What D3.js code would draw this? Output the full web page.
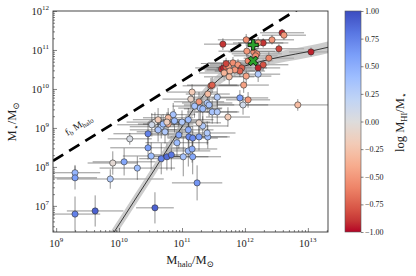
<!DOCTYPE html>
<html>
<head>
<meta charset="utf-8">
<script src="https://d3js.org/d3.v7.min.js"></script>
<style>
  body { margin: 0; background: #fff; }
  text { font-family: "Liberation Serif", "DejaVu Serif", serif; fill: #222; }
</style>
</head>
<body>
<svg id="chart"></svg>
<script>
  var width = 416, height = 276;

  // galaxies: log halo mass, log stellar mass, log gas fraction, errors (dex)
  var logMhalo = [9.30, 9.30, 9.30, 9.62, 9.86, 9.90, 10.08, 10.17, 10.29, 10.46,
    10.46, 10.51, 10.67, 10.76, 10.83, 11.02, 11.10, 11.16, 11.17, 11.24,
    10.57, 10.95, 11.10, 11.11, 11.17, 11.27, 11.41, 11.33, 11.40, 11.27,
    10.78, 10.92, 10.73, 10.67, 10.62, 10.70, 10.57, 10.62, 10.86, 10.88,
    10.52, 10.78, 10.76, 11.00, 11.10, 11.48, 11.56, 11.16, 11.14, 11.27,
    11.40, 11.29, 11.43, 11.41, 11.56, 11.46, 11.63, 11.33, 11.20, 11.73,
    11.92, 11.97, 12.05, 11.98, 12.84, 11.48, 11.65, 12.59, 12.62, 12.02,
    12.29, 12.43, 12.21, 12.03, 12.14, 12.19, 12.54, 13.05, 12.38, 12.29,
    12.21, 12.21, 11.66, 11.70, 11.74, 11.81, 11.89, 11.95, 11.92, 11.84,
    11.76, 11.67, 11.75, 12.02, 12.05, 12.17, 11.70];
  var logMstar = [7.85, 7.72, 6.79, 6.87, 7.69, 8.10, 8.13, 8.72, 7.97, 8.85,
    8.49, 8.28, 8.21, 8.26, 8.31, 8.26, 8.41, 8.46, 8.26, 7.59,
    6.95, 8.82, 8.95, 8.77, 8.74, 8.77, 8.77, 9.05, 8.87, 9.13,
    9.10, 8.62, 8.90, 9.03, 8.95, 9.10, 9.15, 9.21, 9.34, 9.18,
    9.08, 9.26, 9.15, 9.15, 9.21, 9.41, 9.41, 9.92, 9.74, 9.67,
    9.64, 9.51, 9.59, 9.87, 9.79, 10.08, 10.51, 9.49, 9.56, 9.28,
    9.77, 9.59, 9.72, 10.10, 9.59, 10.10, 11.15, 11.44, 11.38, 11.26,
    11.18, 11.26, 11.18, 10.97, 10.95, 10.90, 11.03, 10.95, 10.79, 10.62,
    10.54, 10.38, 10.54, 10.56, 10.59, 10.67, 10.62, 10.54, 10.46, 10.49,
    10.46, 10.41, 10.31, 10.33, 10.72, 10.85, 10.65];
  var logGasFrac = [0.45, 0.60, 0.75, 0.90, 0.30, -0.05, 0.55, 0.05, 0.40, 0.75,
    0.60, 0.40, 0.75, 0.85, 0.80, 0.35, 0.40, 0.50, 0.55, 0.65,
    0.90, 0.55, 0.50, 0.70, 0.70, 0.60, 0.40, 0.30, 0.30, -0.10,
    -0.35, 0.40, 0.30, 0.25, 0.35, 0.40, 0.00, -0.20, 0.35, 0.40,
    0.10, -0.30, -0.15, 0.30, 0.40, 0.35, 0.30, -0.20, -0.10, -0.50,
    0.30, 0.35, 0.35, -0.30, 0.30, -0.70, -0.90, 0.40, 0.35, -0.20,
    0.60, 0.10, -0.50, -0.45, -0.30, -0.75, -0.90, -0.95, -0.50, -0.55,
    -0.90, -0.50, -0.50, -0.50, -0.55, -0.55, -0.85, -0.95, -0.60, -0.80,
    -0.95, 0.30, -0.95, -0.75, -0.50, -0.55, -0.50, -0.75, -0.75, -0.50,
    -0.35, -0.35, -0.30, -0.45, -0.60, -0.55, -0.85];
  var xErr = [0.40, 0.35, 0.40, 0.45, 0.85, 0.40, 0.50, 0.35, 0.60, 0.55,
    0.60, 0.45, 0.35, 0.30, 0.30, 0.40, 0.35, 0.40, 0.45, 0.40,
    0.30, 0.45, 0.40, 0.35, 0.40, 0.45, 0.35, 0.40, 0.45, 0.35,
    0.40, 0.50, 0.45, 0.50, 0.45, 0.40, 0.45, 0.40, 0.35, 0.40,
    0.55, 0.40, 0.30, 0.45, 0.40, 0.40, 0.35, 0.40, 0.45, 0.40,
    0.40, 0.35, 0.40, 0.35, 0.40, 0.45, 0.35, 0.30, 0.35, 0.35,
    0.45, 0.40, 0.35, 0.40, 0.85, 0.40, 0.30, 0.35, 0.35, 0.45,
    0.40, 0.35, 0.40, 0.45, 0.40, 0.40, 0.40, 0.35, 0.40, 0.40,
    0.35, 0.35, 0.45, 0.40, 0.40, 0.40, 0.45, 0.40, 0.40, 0.45,
    0.40, 0.40, 0.40, 0.40, 0.40, 0.35, 0.40];
  var yErr = [0.20, 0.30, 0.45, 0.40, 0.25, 0.30, 0.35, 0.15, 0.30, 0.30,
    0.30, 0.35, 0.40, 0.35, 0.40, 0.50, 0.40, 0.35, 0.45, 0.45,
    0.40, 0.35, 0.30, 0.35, 0.30, 0.35, 0.30, 0.25, 0.30, 0.25,
    0.30, 0.35, 0.30, 0.30, 0.30, 0.25, 0.25, 0.30, 0.30, 0.30,
    0.30, 0.25, 0.25, 0.30, 0.30, 0.30, 0.30, 0.20, 0.25, 0.25,
    0.25, 0.30, 0.30, 0.20, 0.25, 0.20, 0.15, 0.30, 0.30, 0.25,
    0.20, 0.25, 0.20, 0.20, 0.15, 0.20, 0.15, 0.10, 0.12, 0.15,
    0.12, 0.12, 0.15, 0.15, 0.15, 0.15, 0.12, 0.12, 0.15, 0.15,
    0.15, 0.20, 0.15, 0.15, 0.15, 0.15, 0.15, 0.15, 0.15, 0.15,
    0.15, 0.20, 0.20, 0.20, 0.15, 0.15, 0.15];

  // stellar-halo relation, with its scatter (dex)
  var relLogMhalo = [9.79, 10.25, 10.57, 10.86, 11.05, 11.24, 11.40, 11.56, 11.76, 12.00, 12.29, 12.56, 13.05, 13.35];
  var relLogMstar = [6.00, 7.15, 7.95, 8.69, 9.15, 9.62, 9.95, 10.21, 10.44, 10.59, 10.72, 10.82, 10.97, 11.08];
  var relScatter = 0.15;

  // two highlighted objects
  var markLogMhalo = [12.13, 12.13];
  var markLogMstar = [11.13, 10.72];
  var markShape = ["plus", "x"];

  var baryonFrac = 0.16;

  var xTicks = [9, 10, 11, 12, 13];
  var yTicks = [7, 8, 9, 10, 11, 12];
  var cbTicks = [1.00, 0.75, 0.50, 0.25, 0.00, -0.25, -0.50, -0.75, -1.00];

  var svg = d3.select("#chart").attr("width", width).attr("height", height);

  var x = d3.scaleLog().domain([Math.pow(10, 8.95), Math.pow(10, 13.32)]).range([53, 328]);
  var y = d3.scaleLog().domain([Math.pow(10, 6.33), 1e12]).range([232, 11]);
  var L = v => Math.pow(10, v);

  // matplotlib coolwarm, reversed so that -1 is red
  var cw = ["#3b4cc0", "#5977e3", "#7b9ff9", "#9ebeff", "#c0d4f5", "#dddcdc",
    "#f2cbb7", "#f7ac8e", "#ee8468", "#d65244", "#b40426"];
  var cwScale = d3.scaleLinear().domain(d3.range(cw.length).map(i => i / (cw.length - 1)))
    .range(cw).interpolate(d3.interpolateLab);
  var color = v => cwScale((1 - v) / 2);

  svg.append("defs").append("clipPath").attr("id", "clip")
    .append("rect").attr("x", 53).attr("y", 11).attr("width", 275).attr("height", 221);

  var plot = svg.append("g").attr("clip-path", "url(#clip)");

  var pts = logMhalo.map((d, i) => ({
    mh: d, ms: logMstar[i], c: logGasFrac[i], xe: xErr[i], ye: yErr[i]
  }));

  // error bars
  plot.selectAll(".xerr").data(pts).enter().append("line")
    .attr("x1", d => x(L(d.mh - d.xe))).attr("x2", d => x(L(d.mh + d.xe)))
    .attr("y1", d => y(L(d.ms))).attr("y2", d => y(L(d.ms)))
    .attr("stroke", "#333").attr("stroke-width", 0.7).attr("opacity", 0.75);
  plot.selectAll(".yerr").data(pts).enter().append("line")
    .attr("x1", d => x(L(d.mh))).attr("x2", d => x(L(d.mh)))
    .attr("y1", d => y(L(d.ms - d.ye))).attr("y2", d => y(L(d.ms + d.ye)))
    .attr("stroke", "#333").attr("stroke-width", 0.7).attr("opacity", 0.75);

  // relation band and line
  var rel = relLogMhalo.map((d, i) => ({ mh: d, ms: relLogMstar[i] }));
  plot.append("path").datum(rel)
    .attr("d", d3.area().curve(d3.curveMonotoneX)
      .x(d => x(L(d.mh)))
      .y0(d => y(L(d.ms - relScatter)))
      .y1(d => y(L(d.ms + relScatter))))
    .attr("fill", "#b0b0b0").attr("opacity", 0.65);
  plot.append("path").datum(rel)
    .attr("d", d3.line().curve(d3.curveMonotoneX).x(d => x(L(d.mh))).y(d => y(L(d.ms))))
    .attr("fill", "none").attr("stroke", "#111").attr("stroke-width", 0.8);

  // baryon fraction line
  var xd = x.domain();
  plot.append("line")
    .attr("x1", x(xd[0])).attr("y1", y(xd[0] * baryonFrac))
    .attr("x2", x(xd[1])).attr("y2", y(xd[1] * baryonFrac))
    .attr("stroke", "#000").attr("stroke-width", 2.8)
    .attr("stroke-dasharray", "12,7");

  // galaxies
  plot.selectAll(".gal").data(pts).enter().append("circle")
    .attr("cx", d => x(L(d.mh))).attr("cy", d => y(L(d.ms)))
    .attr("r", 3.1)
    .attr("fill", d => color(d.c))
    .attr("stroke", "#333").attr("stroke-width", 0.6);

  // highlighted objects
  var cross = d3.symbol().type(d3.symbolCross).size(60);
  markLogMhalo.forEach(function(d, i) {
    plot.append("path")
      .attr("d", cross())
      .attr("transform", "translate(" + x(L(d)) + "," + y(L(markLogMstar[i])) + ")" +
        (markShape[i] == "x" ? " rotate(45)" : ""))
      .attr("fill", "#2ca02c").attr("stroke", "#000").attr("stroke-width", 0.8);
  });

  // fb label
  var lblX = 9.18;
  svg.append("text")
    .attr("transform", "translate(" + x(L(lblX)) + "," + (y(L(lblX) * baryonFrac) - 16) + ") rotate(-31.8)")
    .attr("font-size", 10)
    .call(t => {
      t.append("tspan").text("f");
      t.append("tspan").attr("font-size", 7).attr("dy", 2).text("b");
      t.append("tspan").attr("dy", -2).text(" M");
      t.append("tspan").attr("font-size", 7).attr("dy", 2).text("halo");
    });

  // frame
  svg.append("rect").attr("x", 53).attr("y", 11).attr("width", 275).attr("height", 221)
    .attr("fill", "none").attr("stroke", "#333").attr("stroke-width", 0.9);

  // ticks
  var minorX = [], minorY = [];
  for (var e = 8; e <= 13; e++) {
    for (var k = 2; k <= 9; k++) {
      var v = k * Math.pow(10, e);
      if (v > xd[0] && v < xd[1]) minorX.push(v);
    }
  }
  var yd = y.domain();
  for (var e = 6; e <= 12; e++) {
    for (var k = 2; k <= 9; k++) {
      var v = k * Math.pow(10, e);
      if (v > yd[0] && v < yd[1]) minorY.push(v);
    }
  }

  svg.append("g").attr("transform", "translate(0,232)")
    .call(d3.axisBottom(x).tickValues(xTicks.map(L)).tickSize(-4).tickFormat(""))
    .call(g => g.select(".domain").remove());
  svg.append("g").attr("transform", "translate(0,232)")
    .call(d3.axisBottom(x).tickValues(minorX).tickSize(-2).tickFormat(""))
    .call(g => g.select(".domain").remove());
  svg.append("g").attr("transform", "translate(53,0)")
    .call(d3.axisLeft(y).tickValues(yTicks.map(L)).tickSize(-4).tickFormat(""))
    .call(g => g.select(".domain").remove());
  svg.append("g").attr("transform", "translate(53,0)")
    .call(d3.axisLeft(y).tickValues(minorY).tickSize(-2).tickFormat(""))
    .call(g => g.select(".domain").remove());
  svg.selectAll(".tick line").attr("stroke", "#333").attr("stroke-width", 0.6);

  xTicks.forEach(function(t) {
    svg.append("text").attr("x", x(L(t))).attr("y", 247)
      .attr("text-anchor", "middle").attr("font-size", 10.5)
      .call(s => {
        s.append("tspan").text("10");
        s.append("tspan").attr("font-size", 7).attr("dy", -5).text(t);
      });
  });
  yTicks.forEach(function(t) {
    svg.append("text").attr("x", 49).attr("y", y(L(t)) + 4)
      .attr("text-anchor", "end").attr("font-size", 10.5)
      .call(s => {
        s.append("tspan").text("10");
        s.append("tspan").attr("font-size", 7).attr("dy", -5).text(t);
      });
  });

  // axis labels
  svg.append("text").attr("x", 190).attr("y", 264).attr("text-anchor", "middle")
    .attr("font-size", 12.5)
    .call(s => {
      s.append("tspan").text("M");
      s.append("tspan").attr("font-size", 8.5).attr("dy", 3).text("halo");
      s.append("tspan").attr("dy", -3).text("/M");
      s.append("tspan").attr("font-size", 8.5).attr("dy", 3).text("\u2299");
    });
  svg.append("text").attr("transform", "translate(16,122) rotate(-90)").attr("text-anchor", "middle")
    .attr("font-size", 12.5)
    .call(s => {
      s.append("tspan").text("M");
      s.append("tspan").attr("font-size", 8.5).attr("dy", 3).text("\u22c6");
      s.append("tspan").attr("dy", -3).text("/M");
      s.append("tspan").attr("font-size", 8.5).attr("dy", 3).text("\u2299");
    });

  // colorbar
  var cb = d3.scaleLinear().domain([-1, 1]).range([232, 11]);
  var grad = svg.select("defs").append("linearGradient").attr("id", "cbgrad")
    .attr("x1", 0).attr("y1", 1).attr("x2", 0).attr("y2", 0);
  d3.range(0, 1.0001, 0.05).forEach(function(s) {
    grad.append("stop").attr("offset", s).attr("stop-color", color(-1 + 2 * s));
  });
  svg.append("rect").attr("x", 345).attr("y", 11).attr("width", 16).attr("height", 221)
    .attr("fill", "url(#cbgrad)").attr("stroke", "#555").attr("stroke-width", 0.6);
  svg.append("g").attr("transform", "translate(361,0)")
    .call(d3.axisRight(cb).tickValues(cbTicks).tickSize(2.5).tickPadding(1.5)
      .tickFormat(v => d3.format(".2f")(v).replace("-", "\u2212")))
    .call(g => g.select(".domain").remove())
    .call(g => g.selectAll("text").attr("font-size", 8).attr("font-family", "Liberation Serif, serif").attr("fill", "#222"))
    .call(g => g.selectAll("line").attr("stroke", "#333").attr("stroke-width", 0.6));

  svg.append("text").attr("transform", "translate(404,122) rotate(-90)").attr("text-anchor", "middle")
    .attr("font-size", 12.5)
    .call(s => {
      s.append("tspan").text("log M");
      s.append("tspan").attr("font-size", 8.5).attr("dy", 3).text("HI");
      s.append("tspan").attr("dy", -3).text("/M");
      s.append("tspan").attr("font-size", 8.5).attr("dy", 3).text("\u22c6");
    });
</script>
</body>
</html>
